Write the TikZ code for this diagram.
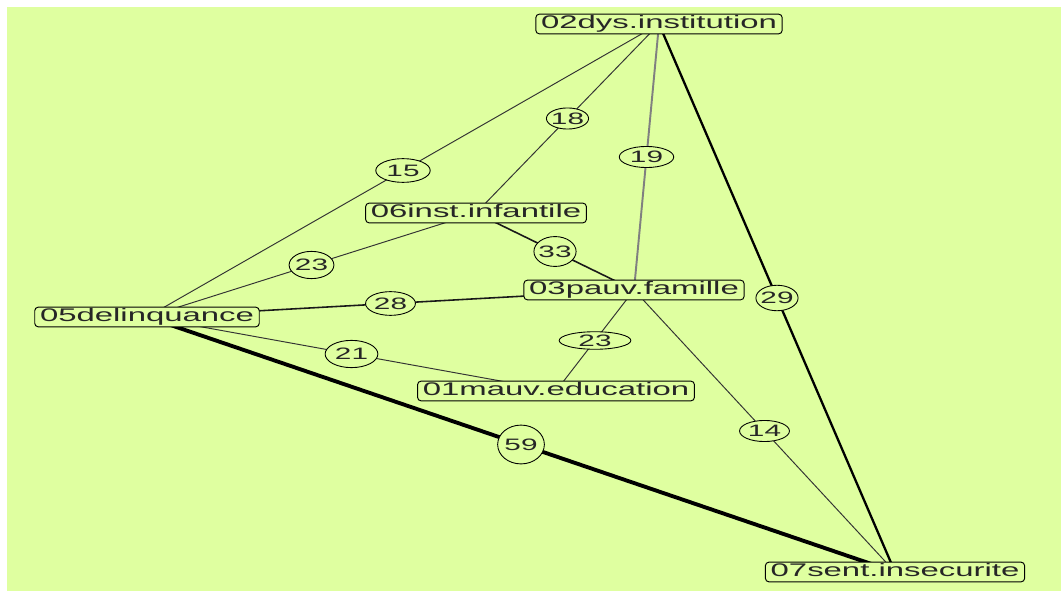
\documentclass[tikz,border=0pt]{standalone}
\usepackage{fontspec}
\usepackage{tikz}
\usetikzlibrary{positioning, backgrounds, shapes.geometric}
\newfontfamily\boxfont[FakeStretch=1.8]{Liberation Sans}
\definecolor{bggreen}{RGB}{223,255,160}
\tikzset{%
	item/.style={draw, rectangle, rounded corners=2pt, fill=bggreen, line width=0.55pt,%
		inner xsep=3pt, inner ysep=0.9pt, text height=7.4pt, text depth=2pt,%
		text=black!85, font=\boxfont\fontsize{10.4}{12}\selectfont},
	wgt/.style={draw=black, ellipse, fill=bggreen, line width=0.5pt, inner xsep=-1.5pt,%
		inner ysep=0pt, text=black!85, font=\boxfont\fontsize{9.4}{11}\selectfont},
	thinlink/.style={line width=0.55pt, black!80},
	greylink/.style={line width=1.1pt, black!50},
	midlink/.style={line width=0.9pt, black!90},
	boldlink/.style={line width=1.3pt, black},
	heavylink/.style={line width=2.2pt, black}
}
\begin{document}
\begin{tikzpicture}[x=0.02cm, y=-0.02cm]
		\useasboundingbox (0,0) rectangle (1061,591);
		\node[item] (inst)   at (659,24)  {02dys.institution};
		\node[item] (infant) at (476,213) {06inst.infantile};
		\node[item] (fam)    at (634,290) {03pauv.famille};
		\node[item] (delinq) at (147,317) {05delinquance};
		\node[item] (educ)   at (556,391) {01mauv.education};
		\node[item] (insec)  at (895,572) {07sent.insecurite};
		\begin{scope}[on background layer]
		\fill[bggreen] (7,7) rectangle (1061,591);
		\draw [thinlink] (inst.center) -- node[wgt, minimum width=31pt, minimum height=13.5pt]{15} (delinq.center);
		\draw [thinlink] (inst.center) -- node[wgt, minimum width=24pt, minimum height=12pt]{18} (infant.center);
		\draw [greylink] (inst.center) -- node[wgt, minimum width=31pt, minimum height=12pt]{19} (fam.center);
		\draw [boldlink] (inst.center) -- node[wgt, minimum width=24pt, minimum height=14.5pt]{29} (insec.center);
		\draw [thinlink] (infant.center) -- node[wgt, minimum width=25.5pt, minimum height=15.5pt]{23} (delinq.center);
		\draw [midlink] (infant.center) -- node[wgt, minimum width=24pt, minimum height=17pt]{33} (fam.center);
		\draw [midlink] (fam.center) -- node[wgt, minimum width=28.4pt, minimum height=13.5pt]{28} (delinq.center);
		\draw [thinlink] (fam.center) -- node[wgt, minimum width=40.8pt, minimum height=10pt]{23} (educ.center);
		\draw [thinlink] (fam.center) -- node[wgt, minimum width=28.4pt, minimum height=12pt]{14} (insec.center);
		\draw [thinlink] (delinq.center) -- node[wgt, minimum width=30pt, minimum height=15.5pt]{21} (educ.center);
		\draw [heavylink] (delinq.center) -- node[wgt, minimum width=26.6pt, minimum height=22.1pt]{59} (insec.center);
		\end{scope}
	\end{tikzpicture}
\end{document}
